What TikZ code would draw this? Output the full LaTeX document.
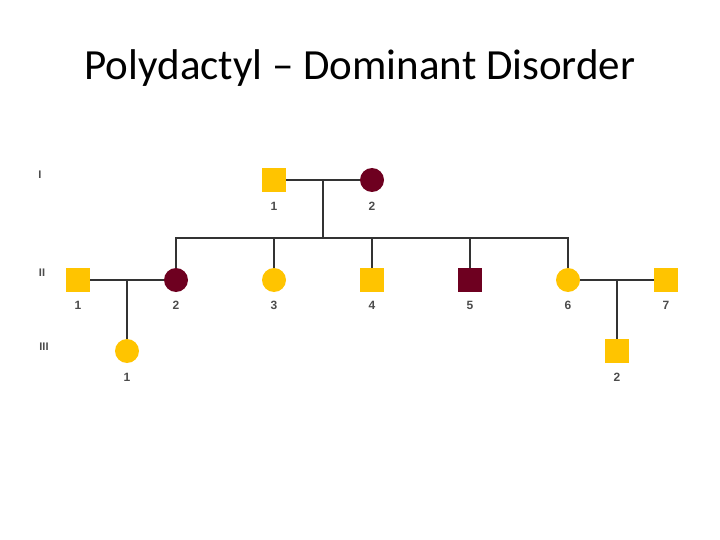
\documentclass[tikz,border=0pt]{standalone}
\usepackage{fontspec}
\setmainfont{Carlito}
\newfontfamily\lab{Liberation Sans}
\begin{document}
\begin{tikzpicture}[x=1pt,y=-1pt,
  ln/.style={draw=black!80,line width=1.6pt},
  mal/.style={rectangle,minimum size=24pt,inner sep=0pt},
  fem/.style={circle,minimum size=24pt,inner sep=0pt},
  yel/.style={fill={rgb,255:red,255;green,196;blue,0}},
  aff/.style={fill={rgb,255:red,110;green,0;blue,32}},
  num/.style={font=\lab\bfseries\fontsize{12}{13}\selectfont,text=black!70},
  gen/.style={font=\lab\bfseries\fontsize{11}{12}\selectfont,text=black!70}]
\useasboundingbox (0,0) rectangle (720,540);
\fill[white] (0,0) rectangle (720,540);
\node[font=\fontsize{43}{50}\selectfont] (title) at (360,68) {Polydactyl – Dominant Disorder};
\node[gen] (g1) at (40,175) {I};
\node[gen] (g2) at (42,273) {II};
\node[gen] (g3) at (44,347) {III};
% nodes
\node[mal,yel] (a1) at (274,180) {};
\node[fem,aff] (a2) at (372,180) {};
\node[mal,yel] (b1) at (78,280) {};
\node[fem,aff] (b2) at (176,280) {};
\node[fem,yel] (b3) at (274,280) {};
\node[mal,yel] (b4) at (372,280) {};
\node[mal,aff] (b5) at (470,280) {};
\node[fem,yel] (b6) at (568,280) {};
\node[mal,yel] (b7) at (666,280) {};
\node[fem,yel] (c1) at (127,351) {};
\node[mal,yel] (c2) at (617,351) {};
% connectors
\coordinate (m1) at (323,180);
\coordinate (s1) at (323,238);
\coordinate (m2) at (127,280);
\coordinate (m3) at (617,280);
\draw[ln] (a1.east) -- (a2.west);
\draw[ln] (m1) -- (s1);
\draw[ln] (b2.north) |- (s1) -| (b6.north);
\draw[ln] (b3.north) -- (b3.north|-s1);
\draw[ln] (b4.north) -- (b4.north|-s1);
\draw[ln] (b5.north) -- (b5.north|-s1);
\draw[ln] (b1.east) -- (b2.west);
\draw[ln] (b6.east) -- (b7.west);
\draw[ln] (m2) -- (c1.north);
\draw[ln] (m3) -- (c2.north);
% labels
\foreach \n/\t in {a1/1,a2/2}{\node[num] (l\n) at ([yshift=-26pt]\n.center) {\t};}
\foreach \n/\t in {b1/1,b2/2,b3/3,b4/4,b5/5,b6/6,b7/7}{\node[num] (l\n) at ([yshift=-25pt]\n.center) {\t};}
\foreach \n/\t in {c1/1,c2/2}{\node[num] (l\n) at ([yshift=-26pt]\n.center) {\t};}
\end{tikzpicture}
\end{document}
